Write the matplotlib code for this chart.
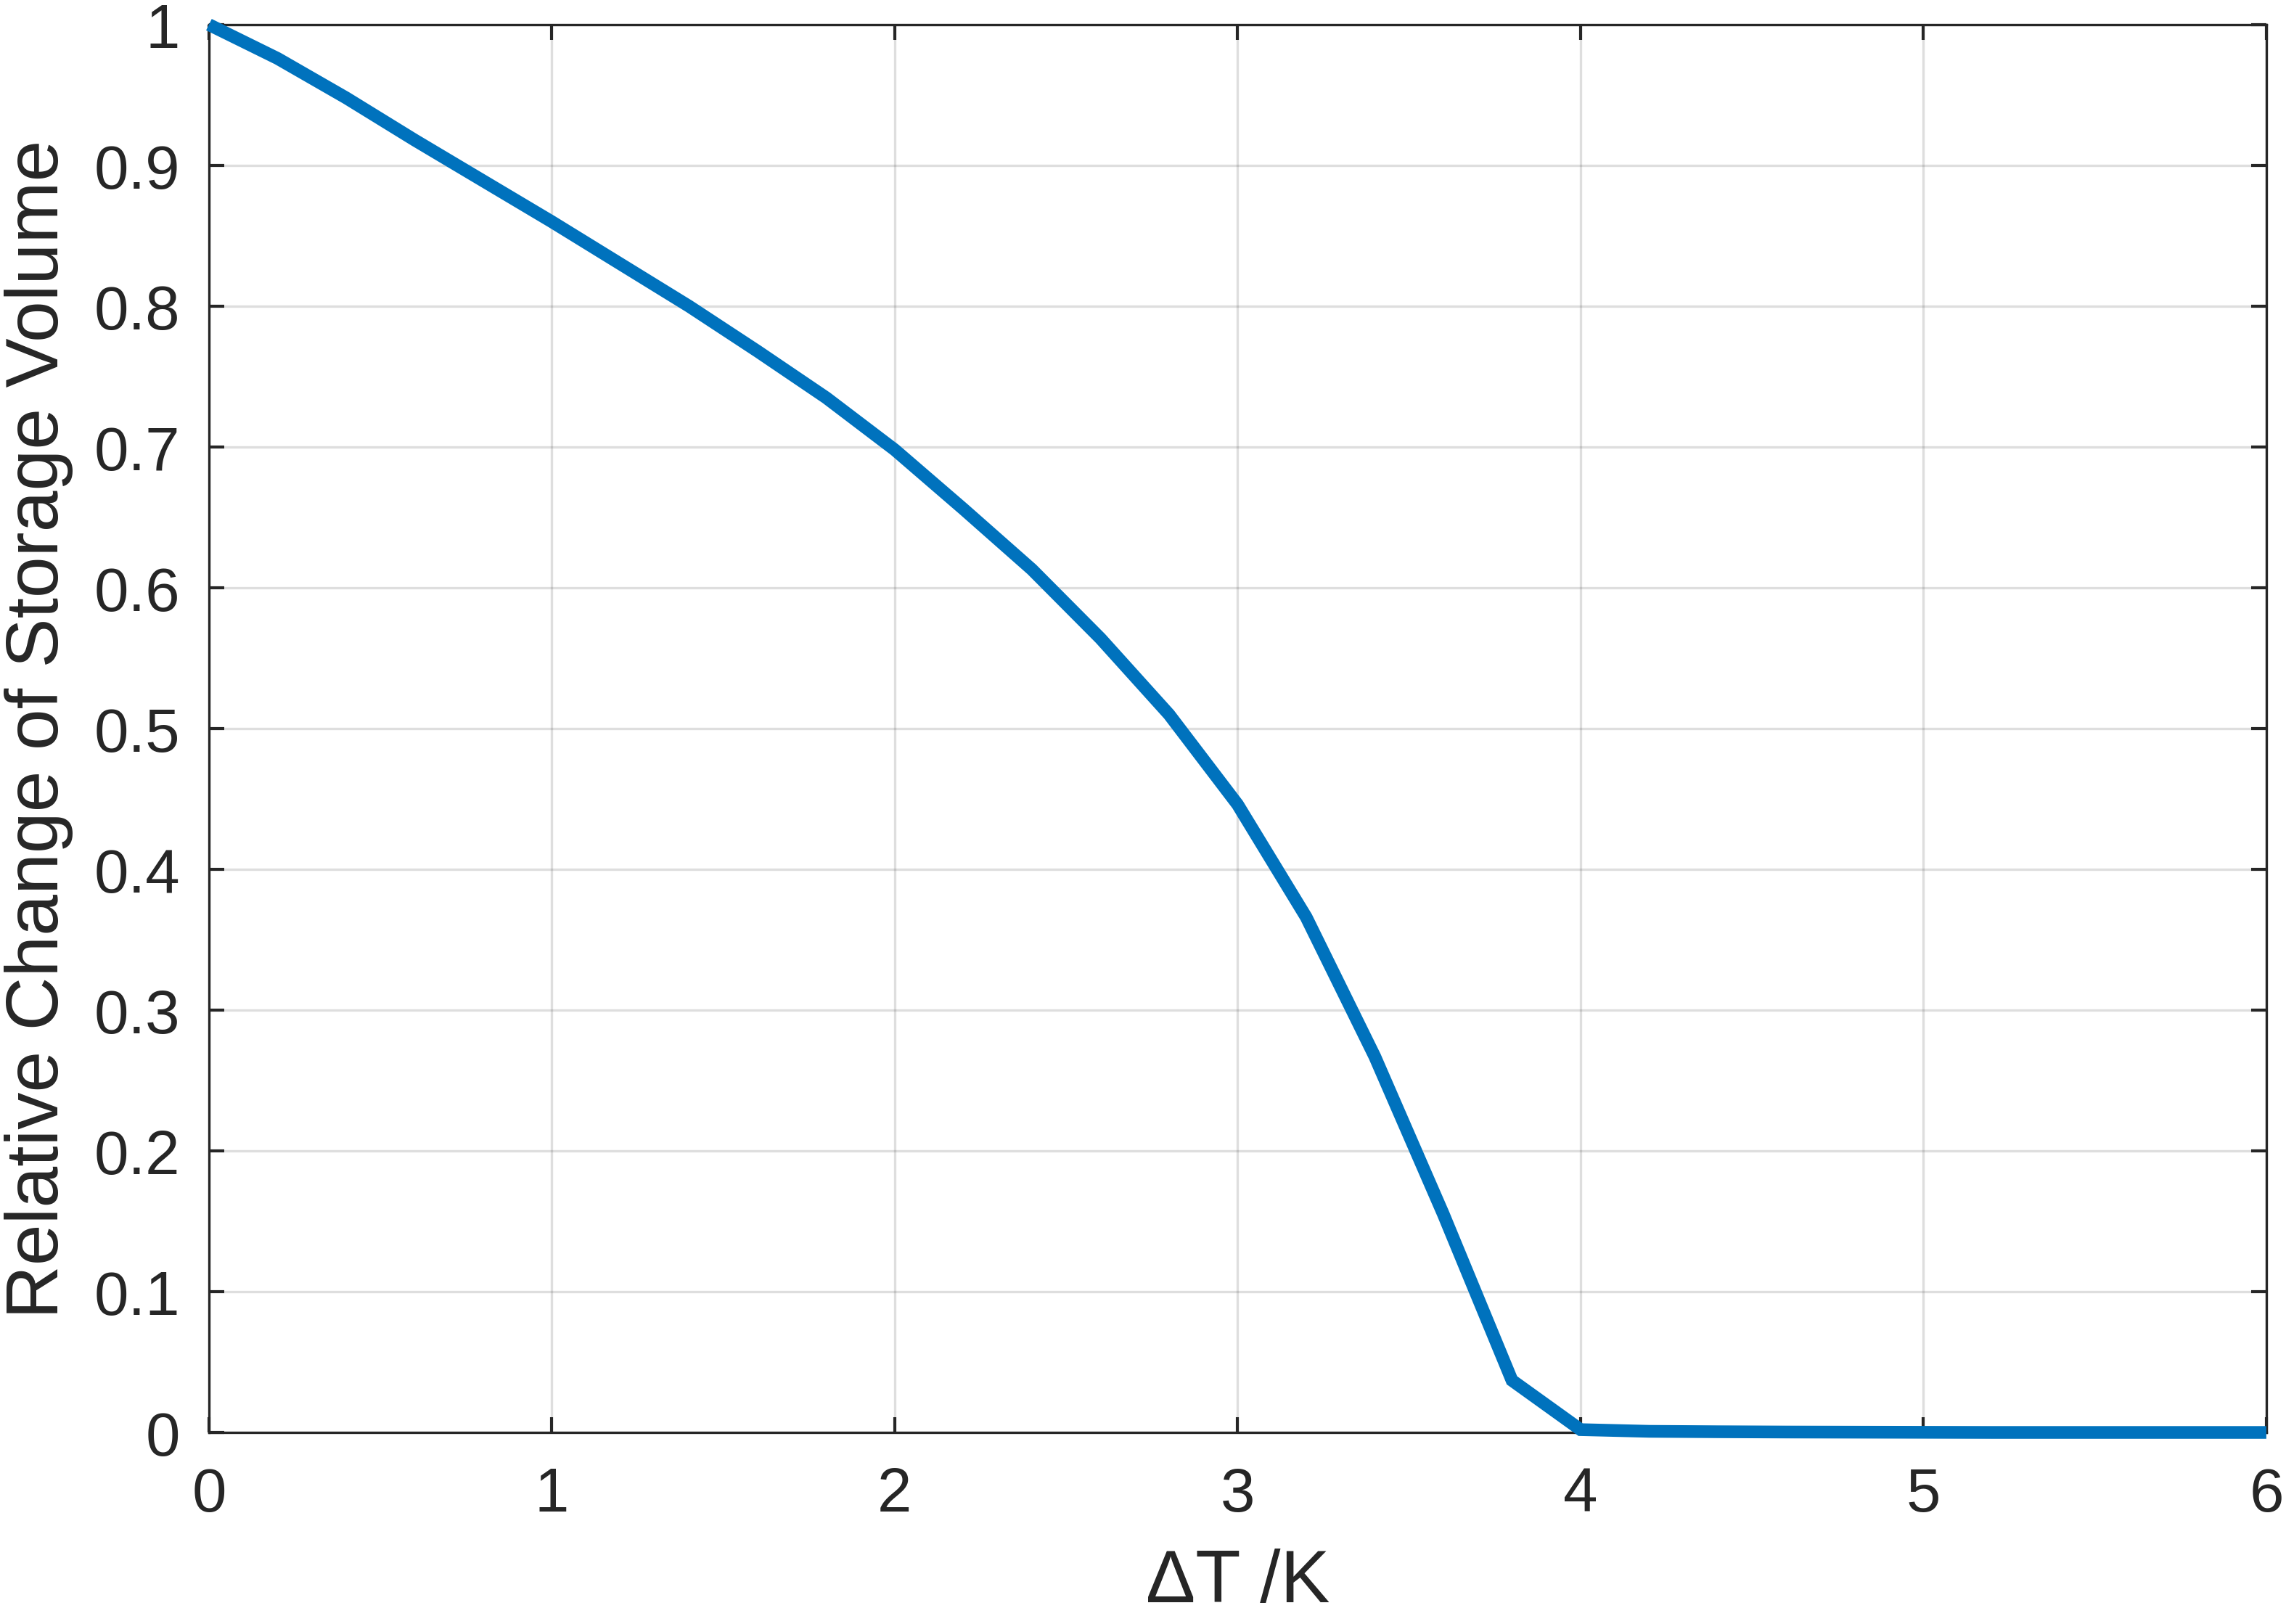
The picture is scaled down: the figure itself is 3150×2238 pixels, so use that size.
import matplotlib
matplotlib.use('Agg')
import matplotlib.pyplot as plt
import numpy as np

# temperature difference (K) and relative storage volume
delta_t = [0.0, 0.2, 0.4, 0.6, 0.8, 1.0, 1.2, 1.4, 1.6, 1.8, 2.0,
           2.2, 2.4, 2.6, 2.8, 3.0, 3.2, 3.4, 3.6, 3.8, 4.0,
           4.2, 4.4, 4.6, 4.8, 5.0, 5.2, 5.4, 5.6, 5.8, 6.0]
rel_volume = [1.0, 0.976, 0.948, 0.918, 0.889, 0.860, 0.830, 0.800, 0.768, 0.735, 0.698,
              0.656, 0.613, 0.564, 0.510, 0.446, 0.366, 0.267, 0.155, 0.037, 0.002,
              0.0008, 0.0005, 0.0003, 0.0002, 0.0001, 0.0, 0.0, 0.0, 0.0, 0.0]
x_ticks = [0, 1, 2, 3, 4, 5, 6]
y_ticks = [0, 0.1, 0.2, 0.3, 0.4, 0.5, 0.6, 0.7, 0.8, 0.9, 1]
y_labels = ['0', '0.1', '0.2', '0.3', '0.4', '0.5', '0.6', '0.7', '0.8', '0.9', '1']

plt.rcParams['font.family'] = ['Liberation Sans', 'DejaVu Sans']

fig = plt.figure(figsize=(10.5, 7.4633), dpi=300)
ax = fig.add_axes([0.0914, 0.1179, 0.900, 0.8665])

# line sits on top of the box, like matlab draws it
ax.plot(delta_t, rel_volume, color='#0072BD', linewidth=4.2,
        solid_joinstyle='miter', solid_capstyle='butt', clip_on=False, zorder=5)

ax.set_xlim(0, 6)
ax.set_ylim(0, 1)
ax.set_xticks(x_ticks)
ax.set_yticks(y_ticks)
ax.set_yticklabels(y_labels)
ax.grid(True, color='#262626', alpha=0.15, linewidth=0.8)
ax.set_axisbelow(True)

ax.tick_params(direction='in', length=5, width=1.0, colors='#262626',
               labelsize=20.5, top=True, right=True)
ax.tick_params(axis='x', pad=11)
ax.tick_params(axis='y', pad=9.5)
for s in ax.spines.values():
    s.set_color('#262626')
    s.set_linewidth(0.8)

ax.set_xlabel('ΔT /K', fontsize=24.5, color='#262626', labelpad=8)
ax.set_ylabel('Relative Change of Storage Volume', fontsize=24.5, color='#262626', labelpad=7)

fig.savefig('out.png')
